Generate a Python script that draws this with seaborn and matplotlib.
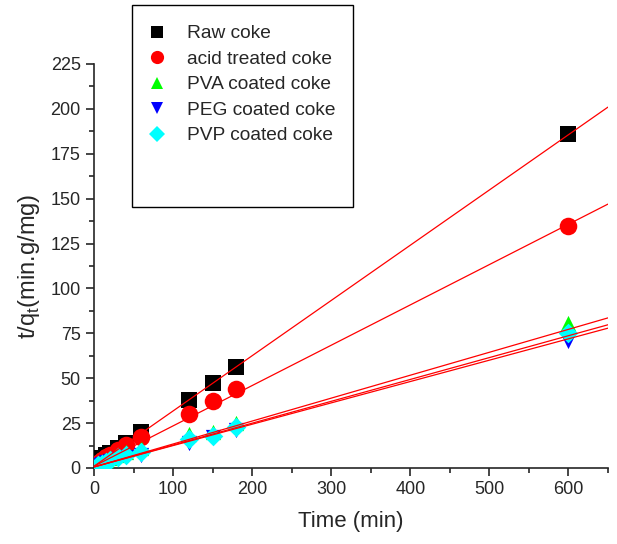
import numpy as np
import pandas as pd
import matplotlib
matplotlib.use("Agg")
import matplotlib.pyplot as plt
from matplotlib.patches import Rectangle
from matplotlib.lines import Line2D
from matplotlib.ticker import MultipleLocator
import seaborn as sns

sns.set_style("ticks")
plt.rcParams['font.family'] = ['Liberation Sans', 'DejaVu Sans']
plt.rcParams['mathtext.fontset'] = 'custom'
plt.rcParams['mathtext.rm'] = 'Liberation Sans'

time = [5, 10, 15, 20, 30, 40, 60, 120, 150, 180, 600]
raw = [4, 5.5, 7, 8.5, 11, 14, 20, 38, 47.5, 56, 186]
acid = [3, 4.5, 6, 7, 10, 13, 17, 30, 37.5, 43.8, 135]
pva = [2, 3, 4.5, 5.5, 7, 9, 11, 19, 20, 25, 81]
peg = [1.5, 2.5, 3.5, 4, 5, 6, 7.5, 14, 17, 21, 71]
pvp = [1.5, 2.5, 3.5, 4.5, 6, 7.5, 9, 16, 18, 23, 75]

series_names = ["Raw coke", "acid treated coke", "PVA coated coke",
                "PEG coated coke", "PVP coated coke"]
fit_intercepts = [1.0, 1.0, 0.6, 0.6, 0.6]
fit_slopes = [0.3077, 0.2246, 0.1277, 0.1218, 0.1189]

colors = ["#000000", "#ff0000", "#00ff00", "#0000ff", "#00ffff"]
markers = ["s", "o", "^", "v", "D"]
sizes = [135, 160, 120, 120, 100]

fig = plt.figure(figsize=(6.17, 5.44), dpi=100)
ax = fig.add_axes([94/617, 1 - 468/544, 514/617, (468 - 64)/544])

values = [raw, acid, pva, peg, pvp]
for name, vals, c, m, s in zip(series_names, values, colors, markers, sizes):
    df = pd.DataFrame({"t": time, "v": vals})
    sns.scatterplot(data=df, x="t", y="v", ax=ax, color=c, marker=m, s=s,
                    linewidth=0, zorder=3, legend=False)

xfit = np.array([0, 650])
for b, k in zip(fit_intercepts, fit_slopes):
    sns.lineplot(x=xfit, y=b + k * xfit, ax=ax, color="#ff0000", lw=0.9,
                 zorder=4, legend=False)

ax.set_xlim(0, 650)
ax.set_ylim(0, 225)
ax.xaxis.set_major_locator(MultipleLocator(100))
ax.xaxis.set_minor_locator(MultipleLocator(50))
ax.yaxis.set_major_locator(MultipleLocator(25))
ax.yaxis.set_minor_locator(MultipleLocator(12.5))
ax.tick_params(which="major", direction="out", length=6, width=1.2, labelsize=13)
ax.tick_params(which="minor", direction="out", length=3.5, width=1.2)
for sp in ["left", "bottom"]:
    ax.spines[sp].set_linewidth(1.2)
sns.despine(ax=ax)
ax.set_xlabel("Time (min)", fontsize=16, labelpad=9)
ax.set_ylabel(r"t/q$_\mathregular{t}$(min.g/mg)", fontsize=17, labelpad=6)

# legend box
fig.patches.append(Rectangle((132/617, 1 - 207/544), (353 - 132)/617, (207 - 5)/544,
                             transform=fig.transFigure, fill=False,
                             edgecolor="black", lw=1.0))
handles = [Line2D([], [], linestyle="none", marker=m, color=c, markersize=ms,
                  markeredgewidth=0)
           for m, c, ms in zip(markers, colors, [8, 9.5, 9, 9, 8.5])]
fig.legend(handles, series_names, loc="upper left",
           bbox_to_anchor=(147/617, 1 - 25/544), frameon=False, fontsize=13.8,
           handlelength=1.0, handletextpad=1.1, labelspacing=0.42,
           borderaxespad=0, borderpad=0)

fig.savefig("out.png", dpi=100)
